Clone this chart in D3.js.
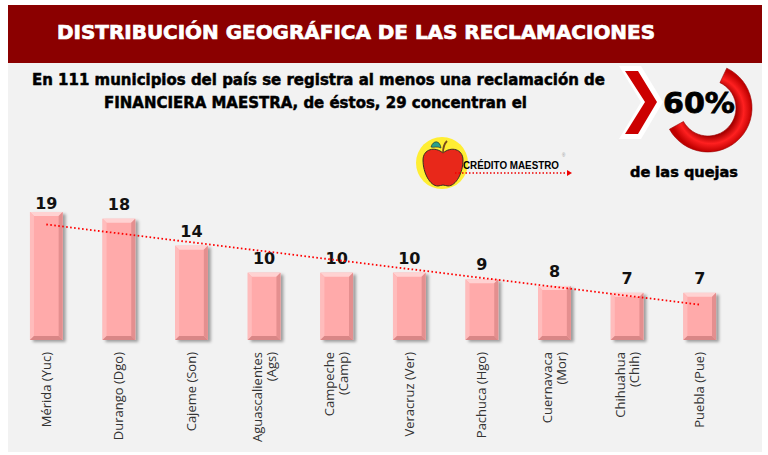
<!DOCTYPE html>
<html>
<head>
<meta charset="utf-8">
<script src="https://cdn.jsdelivr.net/npm/d3@7"></script>
<style>
  body { margin: 0; background: #fff; }
  svg { display: block; }
</style>
</head>
<body>
<div id="chart"></div>
<script>
// chart data
const categories = [
  ["Mérida (Yuc)"],
  ["Durango (Dgo)"],
  ["Cajeme (Son)"],
  ["Aguascalientes", "(Ags)"],
  ["Campeche", "(Camp)"],
  ["Veracruz (Ver)"],
  ["Pachuca (Hgo)"],
  ["Cuernavaca", "(Mor)"],
  ["Chihuahua", "(Chih)"],
  ["Puebla (Pue)"]
];
const values = [19, 18, 14, 10, 10, 10, 9, 8, 7, 7];

const titleText = "DISTRIBUCIÓN GEOGRÁFICA DE LAS RECLAMACIONES";
const subtitleLines = [
  "En 111 municipios del país se registra al menos una reclamación de",
  "FINANCIERA MAESTRA, de éstos, 29 concentran el"
];
const shareText = "60%";
const shareValue = 0.6;
const shareCaption = "de las quejas";

const width = 768, height = 455;
const fontHeavy = "'DejaVu Sans', sans-serif";
const fontLabel = "'Open Sans', 'Noto Sans', sans-serif";

const svg = d3.select("#chart").append("svg")
  .attr("width", width)
  .attr("height", height);

const defs = svg.append("defs");

// drop shadow for the bars
const shadow = defs.append("filter").attr("id", "shadow")
  .attr("x", "-20%").attr("y", "-20%").attr("width", "150%").attr("height", "150%");
shadow.append("feDropShadow")
  .attr("dx", 3).attr("dy", 2).attr("stdDeviation", 1.5)
  .attr("flood-color", "#000").attr("flood-opacity", 0.35);

// ring gradient
const ringGrad = defs.append("radialGradient").attr("id", "ringGrad")
  .attr("cx", "50%").attr("cy", "50%").attr("r", "50%");
ringGrad.append("stop").attr("offset", "62%").attr("stop-color", "#a80000");
ringGrad.append("stop").attr("offset", "80%").attr("stop-color", "#ff2020");
ringGrad.append("stop").attr("offset", "100%").attr("stop-color", "#c00000");

// panel background + title bar
svg.append("rect")
  .attr("x", 8).attr("y", 5).attr("width", 754).attr("height", 447)
  .attr("fill", "#f2f2f2");
svg.append("rect")
  .attr("x", 8).attr("y", 5).attr("width", 754).attr("height", 58)
  .attr("fill", "#8b0000");
svg.append("text")
  .attr("x", 57).attr("y", 39)
  .attr("textLength", 598)
  .attr("lengthAdjust", "spacingAndGlyphs")
  .attr("fill", "#fff")
  .attr("stroke", "#fff")
  .attr("stroke-width", 0.7)
  .attr("font-family", fontHeavy)
  .attr("font-weight", 700)
  .attr("font-size", 19)
  .text(titleText);

// subtitle
const subX = [32, 104], subW = [573, 423];
svg.append("g").selectAll("text")
  .data(subtitleLines)
  .join("text")
  .attr("x", (d, i) => subX[i])
  .attr("y", (d, i) => 85 + i * 23)
  .attr("textLength", (d, i) => subW[i])
  .attr("lengthAdjust", "spacingAndGlyphs")
  .attr("fill", "#000")
  .attr("stroke", "#000")
  .attr("stroke-width", 0.5)
  .attr("font-family", fontHeavy)
  .attr("font-weight", 700)
  .attr("font-size", 15)
  .text(d => d);

// chevron
svg.append("polygon")
  .attr("points", "619,66 641,66 663,102 641,139 619,139 641,102")
  .attr("fill", "#fff");
svg.append("polygon")
  .attr("points", "625,71 638,71 657,102 638,134 625,134 645,102")
  .attr("fill", "#cc0000");

// ring showing the share
const ringArc = d3.arc()
  .innerRadius(28)
  .outerRadius(44)
  .startAngle(Math.PI * 0.14)
  .endAngle(Math.PI * 0.14 + shareValue * 2 * Math.PI);
svg.append("path")
  .attr("transform", "translate(708,108)")
  .attr("d", ringArc())
  .attr("fill", "url(#ringGrad)")
  .attr("stroke", "#900")
  .attr("stroke-width", 0.6);
svg.append("text")
  .attr("x", 699).attr("y", 113)
  .attr("text-anchor", "middle")
  .attr("textLength", 72)
  .attr("lengthAdjust", "spacingAndGlyphs")
  .attr("stroke", "#000")
  .attr("stroke-width", 0.8)
  .attr("font-family", fontHeavy)
  .attr("font-weight", 700)
  .attr("font-size", 29)
  .text(shareText);
svg.append("text")
  .attr("x", 684).attr("y", 177)
  .attr("text-anchor", "middle")
  .attr("textLength", 108)
  .attr("lengthAdjust", "spacingAndGlyphs")
  .attr("stroke", "#000")
  .attr("stroke-width", 0.5)
  .attr("font-family", fontHeavy)
  .attr("font-weight", 700)
  .attr("font-size", 14.5)
  .text(shareCaption);

// logo
const logo = svg.append("g");
logo.append("ellipse").attr("cx", 442).attr("cy", 163).attr("rx", 26).attr("ry", 26).attr("fill", "#ffee33");
logo.append("path")
  .attr("d", "M443,153 C435,146 423,149 423,160 C423,173 430,186 438,186 C440,186 441,185 443,185 C445,185 446,186 448,186 C456,186 463,173 463,160 C463,149 451,146 443,153 Z")
  .attr("fill", "#e8281a").attr("stroke", "#222").attr("stroke-width", 0.9);
logo.append("path")
  .attr("d", "M443,153 C443,148 444,144 447,141")
  .attr("fill", "none").attr("stroke", "#7a4a1a").attr("stroke-width", 1.8);
logo.append("path")
  .attr("d", "M431,147 C433,140 440,140 441,148 C437,146 434,148 431,147 Z")
  .attr("fill", "#2aa08a").attr("stroke", "#222").attr("stroke-width", 0.6);
logo.append("text")
  .attr("x", 463).attr("y", 169)
  .attr("textLength", 96)
  .attr("lengthAdjust", "spacingAndGlyphs")
  .attr("font-family", "'Liberation Sans', Arial, sans-serif")
  .attr("font-weight", 700)
  .attr("font-size", 10.5)
  .text("CRÉDITO MAESTRO");
logo.append("text")
  .attr("x", 562).attr("y", 157)
  .attr("font-family", "'Liberation Sans', Arial, sans-serif")
  .attr("font-size", 4.5)
  .attr("fill", "#999")
  .text("®");
logo.append("line")
  .attr("x1", 455).attr("x2", 568).attr("y1", 173).attr("y2", 173)
  .attr("stroke", "#e00").attr("stroke-width", 1.4).attr("stroke-dasharray", "1.5,2");
logo.append("path")
  .attr("d", "M567,170 L572,173 L567,176 Z")
  .attr("fill", "#e00");

// scales
const x = d3.scaleBand()
  .domain(d3.range(values.length))
  .range([10, 736])
  .paddingInner(0.55)
  .paddingOuter(0.275);
const y = d3.scaleLinear()
  .domain([0, 19])
  .range([340, 212]);
const plotTop = 196;

// bars
const bars = svg.append("g")
  .selectAll("g")
  .data(values)
  .join("g")
  .attr("transform", (d, i) => `translate(${x(i)},${y(d)})`);
const bw = x.bandwidth();
const bev = 4;
bars.append("rect")
  .attr("width", bw)
  .attr("height", d => y(0) - y(d))
  .attr("fill", "#ffaaaa")
  .attr("filter", "url(#shadow)");
// bevel edges
bars.append("path") // top
  .attr("d", d => `M0,0 H${bw} L${bw - bev},${bev} H${bev} Z`)
  .attr("fill", "#ffd2d2");
bars.append("path") // left
  .attr("d", d => `M0,0 L${bev},${bev} V${y(0) - y(d) - bev} L0,${y(0) - y(d)} Z`)
  .attr("fill", "#ffbcbc");
bars.append("path") // right
  .attr("d", d => `M${bw},0 L${bw - bev},${bev} V${y(0) - y(d) - bev} L${bw},${y(0) - y(d)} Z`)
  .attr("fill", "#e48f8f");
bars.append("path") // bottom
  .attr("d", d => `M0,${y(0) - y(d)} L${bev},${y(0) - y(d) - bev} H${bw - bev} L${bw},${y(0) - y(d)} Z`)
  .attr("fill", "#d98686");

// value labels
svg.append("g")
  .selectAll("text")
  .data(values)
  .join("text")
  .attr("x", (d, i) => x(i) + bw / 2)
  .attr("y", d => Math.max(y(d) - 9, plotTop + 13))
  .attr("text-anchor", "middle")
  .attr("font-family", fontHeavy)
  .attr("font-weight", 700)
  .attr("font-size", 16)
  .attr("fill", "#111")
  .text(d => d);

// linear trendline
const xs = d3.range(values.length);
const mx = d3.mean(xs), my = d3.mean(values);
const slope = d3.sum(xs, i => (i - mx) * (values[i] - my)) / d3.sum(xs, i => (i - mx) ** 2);
const icpt = my - slope * mx;
const first = 0, last = values.length - 1;
svg.append("line")
  .attr("x1", x(first) + bw / 2).attr("y1", y(icpt + slope * first))
  .attr("x2", x(last) + bw / 2).attr("y2", y(icpt + slope * last))
  .attr("stroke", "#ff0000")
  .attr("stroke-width", 1.8)
  .attr("stroke-dasharray", "1.6,2.4");

// category labels, rotated
const lineH = 14;
const cat = svg.append("g")
  .selectAll("text")
  .data(categories)
  .join("text")
  .attr("transform", (d, i) => `translate(${x(i) + bw / 2},352) rotate(-90)`)
  .attr("text-anchor", "end")
  .attr("font-family", fontLabel)
  .attr("font-size", 13)
  .attr("fill", "#333");
cat.selectAll("tspan")
  .data(d => d.map((t, k) => ({ t, k, n: d.length })))
  .join("tspan")
  .attr("x", 0)
  .attr("y", d => 4.5 + (d.k - (d.n - 1) / 2) * lineH)
  .text(d => d.t);
</script>
</body>
</html>
